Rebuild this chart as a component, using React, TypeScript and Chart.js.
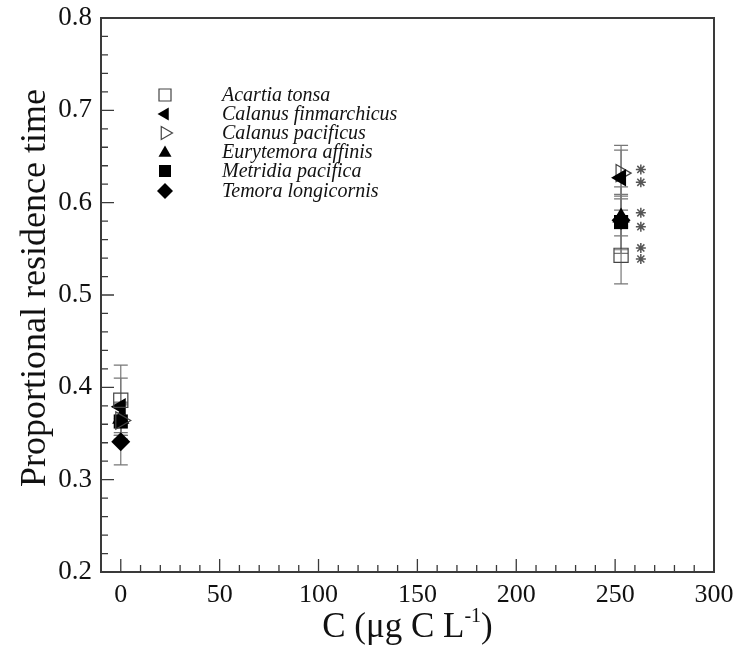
import React, { useEffect, useRef } from 'react';
import { Chart, registerables } from 'chart.js';

Chart.register(...registerables);

// ---- data ----
const concentration = [0, 253];
const speciesNames = [
  'Acartia tonsa',
  'Calanus finmarchicus',
  'Calanus pacificus',
  'Eurytemora affinis',
  'Metridia pacifica',
  'Temora longicornis',
];
const acartiaTonsa = [0.386, 0.543];
const acartiaTonsaErr = [0.038, 0.031];
const calanusFinmarchicus = [0.379, 0.627];
const calanusFinmarchicusErr = [0.031, 0.035];
const calanusPacificus = [0.364, 0.632];
const calanusPacificusErr = [0.02, 0.025];
const eurytemoraAffinis = [0.366, 0.584];
const eurytemoraAffinisErr = [0.015, 0.02];
const metridiaPacifica = [0.363, 0.579];
const metridiaPacificaErr = [0.02, 0.03];
const temoraLongicornis = [0.341, 0.581];
const temoraLongicornisErr = [0.025, 0.036];

const sigX = [263, 263, 263, 263, 263, 263];
const sigY = [0.636, 0.622, 0.589, 0.574, 0.551, 0.539];

const xTickValues = [0, 50, 100, 150, 200, 250, 300];
const yTickValues = [0.2, 0.3, 0.4, 0.5, 0.6, 0.7, 0.8];
const xTitle = 'C (μg C L';
const xTitleSup = '-1';
const yTitle = 'Proportional residence time';

const SERIF = "'Liberation Serif', 'Times New Roman', serif";
const FRAME = '#3a3a3a';
const OPEN = '#444';
const ERR = '#777';

type Marker = { style: string; rotation: number; filled: boolean };
const markers: Marker[] = [
  { style: 'rect', rotation: 0, filled: false },
  { style: 'triangle', rotation: -90, filled: true },
  { style: 'triangle', rotation: 90, filled: false },
  { style: 'triangle', rotation: 0, filled: true },
  { style: 'rect', rotation: 0, filled: true },
  { style: 'rectRot', rotation: 0, filled: true },
];
const seriesValues = [
  acartiaTonsa,
  calanusFinmarchicus,
  calanusPacificus,
  eurytemoraAffinis,
  metridiaPacifica,
  temoraLongicornis,
];
const seriesErrors = [
  acartiaTonsaErr,
  calanusFinmarchicusErr,
  calanusPacificusErr,
  eurytemoraAffinisErr,
  metridiaPacificaErr,
  temoraLongicornisErr,
];

function drawLegendMarker(ctx: CanvasRenderingContext2D, m: Marker, x: number, y: number) {
  const r = 7.5;
  ctx.save();
  ctx.beginPath();
  if (m.style === 'rect') {
    ctx.rect(x - 6, y - 6, 12, 12);
  } else if (m.style === 'rectRot') {
    ctx.moveTo(x - 8, y);
    ctx.lineTo(x, y - 8);
    ctx.lineTo(x + 8, y);
    ctx.lineTo(x, y + 8);
    ctx.closePath();
  } else {
    const rad0 = (m.rotation * Math.PI) / 180;
    for (let k = 0; k < 3; k++) {
      const a = rad0 + (k * 2 * Math.PI) / 3;
      const px = x + Math.sin(a) * r;
      const py = y - Math.cos(a) * r + (m.rotation === 0 ? 1 : 0);
      if (k === 0) ctx.moveTo(px, py);
      else ctx.lineTo(px, py);
    }
    ctx.closePath();
  }
  if (m.filled) {
    ctx.fillStyle = '#000';
    ctx.fill();
  } else {
    ctx.strokeStyle = OPEN;
    ctx.lineWidth = 1.2;
    ctx.stroke();
  }
  ctx.restore();
}

const decorPlugin = {
  id: 'decor',
  beforeDatasetsDraw(chart: any) {
    const ctx: CanvasRenderingContext2D = chart.ctx;
    const ys = chart.scales.y;
    ctx.save();
    ctx.strokeStyle = ERR;
    ctx.lineWidth = 1.2;
    seriesValues.forEach((vals, i) => {
      const meta = chart.getDatasetMeta(i);
      vals.forEach((v, j) => {
        const pt = meta.data[j];
        if (!pt) return;
        const e = seriesErrors[i][j];
        const yt = ys.getPixelForValue(v + e);
        const yb = ys.getPixelForValue(v - e);
        const cw = 7;
        ctx.beginPath();
        ctx.moveTo(pt.x, yt);
        ctx.lineTo(pt.x, yb);
        ctx.moveTo(pt.x - cw, yt);
        ctx.lineTo(pt.x + cw, yt);
        ctx.moveTo(pt.x - cw, yb);
        ctx.lineTo(pt.x + cw, yb);
        ctx.stroke();
      });
    });
    ctx.restore();
  },
  afterDatasetsDraw(chart: any) {
    const ctx: CanvasRenderingContext2D = chart.ctx;
    const a = chart.chartArea;
    const xs = chart.scales.x;
    const ys = chart.scales.y;
    ctx.save();
    // frame
    ctx.strokeStyle = FRAME;
    ctx.lineWidth = 2;
    ctx.strokeRect(a.left, a.top, a.right - a.left, a.bottom - a.top);
    // ticks (inward)
    ctx.lineWidth = 1.3;
    ctx.beginPath();
    for (let v = xTickValues[0]; v <= xTickValues[xTickValues.length - 1] + 1e-9; v += 10) {
      const px = xs.getPixelForValue(v);
      const major = Math.abs(v % 50) < 1e-6;
      ctx.moveTo(px, a.bottom);
      ctx.lineTo(px, a.bottom - (major ? 13 : 7));
    }
    for (let k = 0; k <= 30; k++) {
      const v = 0.2 + k * 0.02;
      const py = ys.getPixelForValue(v);
      const major = k % 5 === 0;
      ctx.moveTo(a.left, py);
      ctx.lineTo(a.left + (major ? 13 : 7), py);
    }
    ctx.stroke();

    // legend
    const lx = 165;
    const tx = 222;
    const rowY = [95, 114, 133, 152, 171, 191];
    ctx.font = `italic 20px ${SERIF}`;
    ctx.fillStyle = '#111';
    ctx.textBaseline = 'middle';
    ctx.textAlign = 'left';
    speciesNames.forEach((name, i) => {
      drawLegendMarker(ctx, markers[i], lx, rowY[i]);
      ctx.fillText(name, tx, rowY[i] + 1);
    });

    // x title
    ctx.fillStyle = '#111';
    ctx.textBaseline = 'alphabetic';
    ctx.font = `35px ${SERIF}`;
    const mainW = ctx.measureText(xTitle).width;
    ctx.font = `20px ${SERIF}`;
    const supW = ctx.measureText(xTitleSup).width;
    ctx.font = `35px ${SERIF}`;
    const closeW = ctx.measureText(')').width;
    const total = mainW + supW + closeW;
    const cx = (a.left + a.right) / 2;
    let sx = cx - total / 2;
    const base = 637;
    ctx.fillText(xTitle, sx, base);
    sx += mainW;
    ctx.font = `20px ${SERIF}`;
    ctx.fillText(xTitleSup, sx, base - 15);
    sx += supW;
    ctx.font = `35px ${SERIF}`;
    ctx.fillText(')', sx, base);

    // y title
    ctx.save();
    ctx.translate(36, 288);
    ctx.rotate(-Math.PI / 2);
    ctx.textAlign = 'center';
    ctx.textBaseline = 'middle';
    ctx.font = `36px ${SERIF}`;
    ctx.fillText(yTitle, 0, 0);
    ctx.restore();

    ctx.restore();
  },
};

export default function App() {
  const ref = useRef<HTMLCanvasElement | null>(null);
  useEffect(() => {
    document.body.style.margin = '0';
    if (!ref.current) return;
    const datasets: any[] = seriesValues.map((vals, i) => {
      const m = markers[i];
      return {
        label: speciesNames[i],
        data: vals.map((v, j) => ({ x: concentration[j], y: v })),
        pointStyle: m.style,
        rotation: m.rotation,
        radius: m.style === 'rect' ? 10 : m.style === 'rectRot' ? 9.5 : 10,
        backgroundColor: m.filled ? '#000' : 'rgba(0,0,0,0)',
        borderColor: m.filled ? '#000' : OPEN,
        borderWidth: m.filled ? 0 : 1.2,
        showLine: false,
      };
    });
    datasets.push({
      label: 'sig',
      data: sigX.map((x, j) => ({ x, y: sigY[j] })),
      pointStyle: 'star',
      radius: 5,
      borderColor: '#555',
      backgroundColor: '#555',
      borderWidth: 1.5,
      showLine: false,
    });
    const chart = new Chart(ref.current, {
      type: 'scatter',
      data: { datasets },
      options: {
        responsive: false,
        animation: false,
        layout: { padding: { top: 18, right: 24, left: 0, bottom: 0 } },
        plugins: { legend: { display: false }, tooltip: { enabled: false } },
        scales: {
          x: {
            type: 'linear',
            min: -10,
            max: 300,
            afterBuildTicks: (s: any) => {
              s.ticks = xTickValues.map((v) => ({ value: v }));
            },
            afterFit: (s: any) => {
              s.height = 79;
              s.paddingLeft = 0;
              s.paddingRight = 0;
            },
            grid: { display: false, drawTicks: false },
            border: { display: false },
            ticks: {
              padding: 8,
              maxRotation: 0,
              color: '#111',
              font: { family: SERIF, size: 26 },
              callback: (v: any) => String(v),
            },
          },
          y: {
            type: 'linear',
            min: 0.2,
            max: 0.8,
            afterBuildTicks: (s: any) => {
              s.ticks = yTickValues.map((v) => ({ value: v }));
            },
            afterFit: (s: any) => {
              s.width = 101;
              s.paddingTop = 0;
              s.paddingBottom = 0;
            },
            grid: { display: false, drawTicks: false },
            border: { display: false },
            ticks: {
              padding: 9,
              color: '#111',
              font: { family: SERIF, size: 27 },
              callback: (v: any) => Number(v).toFixed(1),
            },
          },
        },
      },
      plugins: [decorPlugin],
    });
    return () => chart.destroy();
  }, []);
  return (
    <div style={{ position: 'absolute', left: 0, top: 0, width: 738, height: 651, background: '#fff' }}>
      <canvas ref={ref} width={738} height={651} />
    </div>
  );
}
